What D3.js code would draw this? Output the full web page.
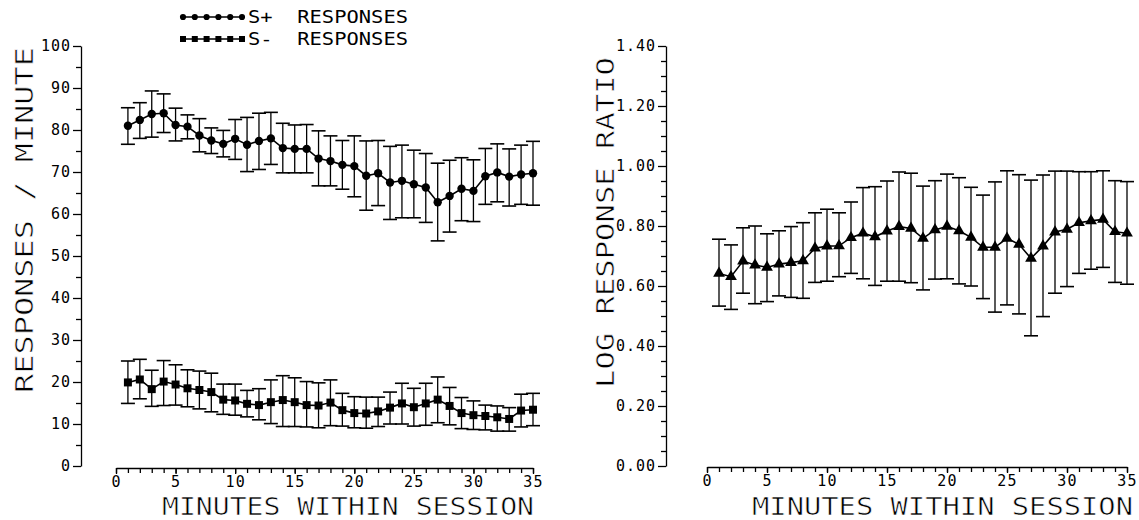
<!DOCTYPE html>
<html>
<head>
<meta charset="utf-8">
<script src="https://cdn.jsdelivr.net/npm/d3@7"></script>
<style>
  html, body { margin: 0; padding: 0; background: #fff; }
  svg { display: block; }
  text { font-family: "DejaVu Sans Mono", "Liberation Mono", monospace; fill: #000; }
  .thin { stroke: #fff; stroke-width: 0.6px; paint-order: normal; }
</style>
</head>
<body>
<svg id="chart" width="1139" height="520"></svg>
<script>
// ---------- data ----------
const minutes = [1,2,3,4,5,6,7,8,9,10,11,12,13,14,15,16,17,18,19,20,21,22,23,24,25,26,27,28,29,30,31,32,33,34,35];

const splusMean  = [81.0,82.4,83.8,84.0,81.2,80.8,78.7,77.5,76.7,77.9,76.5,77.4,78.0,75.7,75.5,75.5,73.2,72.6,71.7,71.4,69.1,69.7,67.5,67.9,67.1,66.3,62.8,64.3,66.0,65.5,69.0,69.9,68.9,69.4,69.7];
const splusUpper = [85.3,86.5,89.3,88.6,85.2,83.6,82.7,80.5,79.9,82.5,83.0,84.0,84.2,81.6,81.2,81.3,79.8,78.6,77.5,78.6,77.4,77.5,76.1,76.4,75.2,74.4,72.1,72.8,73.4,72.9,75.6,76.7,75.5,76.4,77.3];
const splusLower = [76.6,78.0,78.3,79.4,77.4,77.9,74.8,74.4,73.6,73.0,70.1,70.6,71.8,69.8,69.8,69.8,66.7,66.7,65.9,64.1,60.9,62.0,58.7,59.1,59.1,58.0,53.6,55.7,58.4,58.2,62.3,62.9,61.9,62.3,62.1];

const sminusMean  = [19.9,20.6,18.3,20.1,19.4,18.5,18.1,17.6,15.8,15.6,14.8,14.5,15.2,15.7,15.2,14.5,14.4,15.1,13.3,12.6,12.5,13.0,13.9,14.9,14.0,14.9,15.8,14.3,12.6,12.1,11.9,11.6,11.2,13.2,13.4];
const sminusUpper = [25.0,25.4,22.8,25.1,24.1,22.9,22.6,22.1,19.5,19.5,18.0,18.4,20.5,21.5,21.0,20.1,19.8,20.5,17.3,16.5,16.4,16.4,17.6,19.7,18.5,19.7,21.2,18.7,16.3,15.5,14.5,14.3,13.9,17.1,17.3];
const sminusLower = [14.9,16.0,14.2,14.4,14.5,14.1,13.6,12.9,12.3,12.1,11.7,11.0,10.1,9.4,9.4,9.3,9.1,9.6,9.5,9.1,9.0,9.4,10.0,10.0,9.5,9.7,10.3,9.8,8.9,8.7,8.6,8.3,8.3,9.3,9.6];

const ratioMean  = [0.642,0.631,0.683,0.670,0.662,0.673,0.678,0.684,0.726,0.733,0.734,0.761,0.776,0.764,0.783,0.798,0.792,0.759,0.787,0.799,0.784,0.762,0.729,0.729,0.759,0.739,0.692,0.733,0.780,0.789,0.811,0.817,0.822,0.781,0.776];
const ratioUpper = [0.756,0.737,0.794,0.800,0.774,0.784,0.798,0.811,0.844,0.856,0.844,0.880,0.928,0.931,0.950,0.980,0.976,0.933,0.951,0.973,0.961,0.929,0.903,0.947,0.984,0.971,0.953,0.970,0.983,0.983,0.981,0.981,0.984,0.951,0.948];
const ratioLower = [0.533,0.522,0.576,0.541,0.548,0.567,0.562,0.559,0.612,0.616,0.631,0.642,0.624,0.602,0.616,0.616,0.611,0.587,0.623,0.624,0.607,0.600,0.558,0.513,0.537,0.507,0.434,0.498,0.576,0.598,0.642,0.656,0.662,0.612,0.606];

const xTickValues  = [0,5,10,15,20,25,30,35];
const xMinorValues = [0,1,2,3,4,5,6,7,8,9,10,11,12,13,14,15,16,17,18,19,20,21,22,23,24,25,26,27,28,29,30,31,32,33,34,35];
const yTicksLeft   = [0,10,20,30,40,50,60,70,80,90,100];
const yMinorLeft   = [5,15,25,35,45,55,65,75,85,95];
const yTicksRight  = [0,0.2,0.4,0.6,0.8,1.0,1.2,1.4];
const yMinorRight  = [0.05,0.1,0.15,0.25,0.3,0.35,0.45,0.5,0.55,0.65,0.7,0.75,0.85,0.9,0.95,1.05,1.1,1.15,1.25,1.3,1.35];

const legendLabels = ["S+  RESPONSES", "S-  RESPONSES"];
const xTitle = "MINUTES WITHIN SESSION";
const yTitleLeft = "RESPONSES / MINUTE";
const yTitleRight = "LOG RESPONSE RATIO";

// ---------- layout ----------
const svg = d3.select("#chart");
const FONT = '"DejaVu Sans Mono", "Liberation Mono", monospace';

const xL = d3.scaleLinear().domain([0,35]).range([116,533]);
const yL = d3.scaleLinear().domain([0,100]).range([466,46]);
const xR = d3.scaleLinear().domain([0,35]).range([707,1127]);
const yR = d3.scaleLinear().domain([0,1.4]).range([466,46]);

function styleAxis(g, fontSize, ls) {
  g.attr("font-family", FONT).attr("font-size", fontSize);
  g.selectAll("path.domain").attr("stroke", "#000").attr("stroke-width", 1.3);
  g.selectAll(".tick line").attr("stroke", "#000").attr("stroke-width", 1.3);
  g.selectAll(".tick text").attr("fill", "#000").style("letter-spacing", ls + "px");
}

function drawYAxis(xPos, scale, major, minor, fmt) {
  const gm = svg.append("g").attr("transform", `translate(${xPos},0)`)
    .call(d3.axisLeft(scale).tickValues(minor).tickSize(5).tickSizeOuter(0).tickFormat(""));
  gm.select("path.domain").remove();
  styleAxis(gm, 15, 0);
  const g = svg.append("g").attr("transform", `translate(${xPos},0)`)
    .call(d3.axisLeft(scale).tickValues(major).tickSize(8).tickSizeOuter(0).tickPadding(2).tickFormat(fmt));
  styleAxis(g, 15, 1.0);
}

function drawXAxis(yPos, scale) {
  const gm = svg.append("g").attr("transform", `translate(0,${yPos})`)
    .call(d3.axisBottom(scale).tickValues(xMinorValues).tickSize(5).tickSizeOuter(0).tickFormat(""));
  gm.select("path.domain").remove();
  styleAxis(gm, 15, 0);
  const g = svg.append("g").attr("transform", `translate(0,${yPos})`)
    .call(d3.axisBottom(scale).tickValues(xTickValues).tickSize(6).tickSizeOuter(0).tickPadding(2).tickFormat(d3.format("d")));
  styleAxis(g, 15, 1.2);
}

drawYAxis(81, yL, yTicksLeft, yMinorLeft, d3.format("d"));
drawXAxis(468, xL);
drawYAxis(666, yR, yTicksRight, yMinorRight, d3.format(".2f"));
drawXAxis(467, xR);

// ---------- titles ----------
svg.append("text").attr("class", "thin").attr("x", 162).attr("y", 515).attr("font-size", 25)
  .attr("textLength", 372).attr("lengthAdjust", "spacingAndGlyphs").text(xTitle);
svg.append("text").attr("class", "thin").attr("x", 752).attr("y", 515).attr("font-size", 25)
  .attr("textLength", 381).attr("lengthAdjust", "spacingAndGlyphs").text(xTitle);
svg.append("text").attr("class", "thin").attr("transform", "translate(33,393) rotate(-90)").attr("font-size", 25)
  .attr("textLength", 346).attr("lengthAdjust", "spacingAndGlyphs").text(yTitleLeft);
svg.append("text").attr("class", "thin").attr("transform", "translate(614,388) rotate(-90)").attr("font-size", 25)
  .attr("textLength", 331).attr("lengthAdjust", "spacingAndGlyphs").text(yTitleRight);

// ---------- series ----------
const circleSym = d3.symbol().type(d3.symbolCircle).size(55);
const squareSym = d3.symbol().type(d3.symbolSquare).size(64);
const triSym = d3.symbol().type(d3.symbolTriangle).size(60);

function drawSeries(xs, ys, mean, upper, lower, sym) {
  const g = svg.append("g");
  const cap = 7;
  minutes.forEach((m, i) => {
    const x = xs(m);
    g.append("line").attr("x1", x).attr("x2", x).attr("y1", ys(upper[i])).attr("y2", ys(lower[i]))
      .attr("stroke", "#000").attr("stroke-width", 1.3);
    g.append("line").attr("x1", x - cap).attr("x2", x + cap).attr("y1", ys(upper[i])).attr("y2", ys(upper[i]))
      .attr("stroke", "#000").attr("stroke-width", 1.6);
    g.append("line").attr("x1", x - cap).attr("x2", x + cap).attr("y1", ys(lower[i])).attr("y2", ys(lower[i]))
      .attr("stroke", "#000").attr("stroke-width", 1.6);
  });
  const line = d3.line().x((d, i) => xs(minutes[i])).y(d => ys(d));
  g.append("path").attr("d", line(mean)).attr("fill", "none").attr("stroke", "#000").attr("stroke-width", 1.6);
  g.selectAll("path.pt").data(mean).join("path").attr("class", "pt")
    .attr("transform", (d, i) => `translate(${xs(minutes[i])},${ys(d)})`)
    .attr("d", sym).attr("fill", "#000");
}

drawSeries(xL, yL, splusMean, splusUpper, splusLower, circleSym);
drawSeries(xL, yL, sminusMean, sminusUpper, sminusLower, squareSym);
drawSeries(xR, yR, ratioMean, ratioUpper, ratioLower, triSym);

// ---------- legend ----------
const legX = d3.scaleLinear().domain([0,5]).range([183,242]);
const legendRows = [
  {label: legendLabels[0], y: 17, sym: d3.symbol().type(d3.symbolCircle).size(30)},
  {label: legendLabels[1], y: 39, sym: d3.symbol().type(d3.symbolSquare).size(36)}
];
legendRows.forEach(r => {
  const g = svg.append("g");
  g.append("line").attr("x1", legX(0)).attr("x2", legX(5)).attr("y1", r.y).attr("y2", r.y)
    .attr("stroke", "#000").attr("stroke-width", 1.5);
  g.selectAll("path").data([0,1,2,3,4,5]).join("path")
    .attr("transform", d => `translate(${legX(d)},${r.y})`).attr("d", r.sym).attr("fill", "#000");
  g.append("text").attr("x", 248).attr("y", r.y + 6).attr("font-size", 17)
    .attr("textLength", 160).attr("lengthAdjust", "spacingAndGlyphs")
    .style("white-space", "pre").text(r.label);
});
</script>
</body>
</html>
